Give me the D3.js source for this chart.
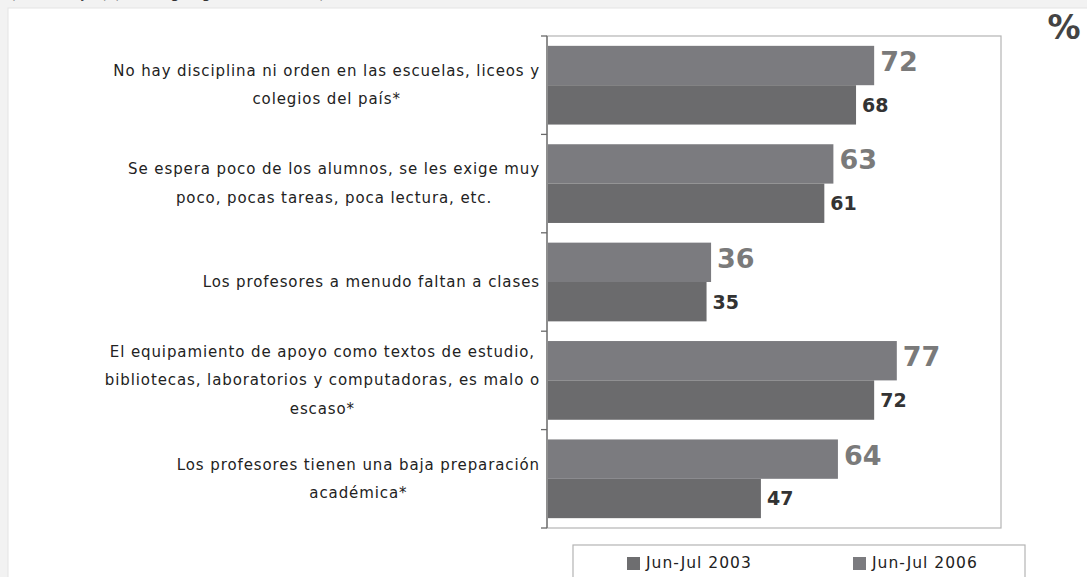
<!DOCTYPE html>
<html>
<head>
<meta charset="utf-8">
<script src="https://cdn.jsdelivr.net/npm/d3@7"></script>
<style>
  body { margin: 0; background: #f2f2f2; }
  svg { display: block; font-family: "DejaVu Sans", sans-serif; }
</style>
</head>
<body>
<div id="chart"></div>
<script>
// data
const categories = [
  "No hay disciplina ni orden en las escuelas, liceos y|colegios del país*",
  "Se espera poco de los alumnos, se les exige muy|poco, pocas tareas, poca lectura, etc.",
  "Los profesores a menudo faltan a clases",
  "El equipamiento de apoyo como textos de estudio,|bibliotecas, laboratorios y computadoras, es malo o|escaso*",
  "Los profesores tienen una baja preparación|académica*"
];
const seriesNames = ["Jun-Jul 2003", "Jun-Jul 2006"];
const values2003 = [72, 63, 36, 77, 64];
const values2006 = [68, 61, 35, 72, 47];
const colors = ["#7b7b7f", "#6b6b6d"];

const W = 1087, H = 577;
const plot = {left: 547, right: 1001, top: 36, bottom: 528};

const svg = d3.select("#chart").append("svg")
  .attr("width", W)
  .attr("height", H);

// white panel
svg.append("rect")
  .attr("x", 8).attr("y", 8)
  .attr("width", W).attr("height", H)
  .attr("fill", "#fff")
  .attr("stroke", "#e4e4e4");

// heading above, cut off by the top edge like in the original
svg.append("text")
  .attr("x", 10).attr("y", -2)
  .attr("font-size", 15).attr("fill", "#333")
  .text("(Porcentajes) (Ranking según de acuerdo)");

const x = d3.scaleLinear().domain([0, 100]).range([plot.left + 1, plot.right]);
const y = d3.scaleBand().domain(d3.range(categories.length))
  .range([plot.top, plot.bottom])
  .paddingInner(0.2).paddingOuter(0.1);
const ySub = d3.scaleBand().domain([0, 1]).range([0, y.bandwidth()]);

// frame
svg.append("rect")
  .attr("x", plot.left).attr("y", plot.top)
  .attr("width", plot.right - plot.left).attr("height", plot.bottom - plot.top)
  .attr("fill", "none").attr("stroke", "#b4b4b4").attr("stroke-width", 1.2);

const rows = categories.map((c, i) => ({i, label: c, vals: [values2003[i], values2006[i]]}));

const g = svg.selectAll("g.row").data(rows).join("g")
  .attr("class", "row")
  .attr("transform", d => `translate(0,${y(d.i)})`);

g.selectAll("rect").data(d => d.vals).join("rect")
  .attr("x", x(0))
  .attr("y", (d, j) => ySub(j))
  .attr("width", d => x(d) - x(0))
  .attr("height", ySub.bandwidth())
  .attr("fill", (d, j) => colors[j]);

// value labels
g.selectAll("text.val").data(d => d.vals).join("text")
  .attr("class", "val")
  .attr("x", d => x(d) + 6)
  .attr("y", (d, j) => ySub(j) + ySub.bandwidth() / 2 + (j === 0 ? -4 : 0))
  .attr("dominant-baseline", "central")
  .attr("font-weight", "bold")
  .attr("font-size", (d, j) => j === 0 ? 27 : 19)
  .attr("fill", (d, j) => j === 0 ? "#7a7a7a" : "#333")
  .text(d => d);

// left axis with ticks between the categories
const step = y.step();
const tickYs = d3.range(categories.length + 1).map(k => y(0) - step * 0.1 + k * step);
svg.append("line")
  .attr("x1", plot.left).attr("x2", plot.left)
  .attr("y1", plot.top).attr("y2", plot.bottom)
  .attr("stroke", "#6a6a6a").attr("stroke-width", 1.3);
svg.selectAll("line.tick").data(tickYs).join("line")
  .attr("class", "tick")
  .attr("x1", plot.left - 6).attr("x2", plot.left)
  .attr("y1", d => d).attr("y2", d => d)
  .attr("stroke", "#6a6a6a").attr("stroke-width", 1.3);

// category labels: block right aligned at 540, lines centred inside
const lineH = 28.5;
const labels = svg.selectAll("g.lab").data(rows).join("g").attr("class", "lab");
labels.each(function(d) {
  const lines = d.label.split("|");
  const cy = y(d.i) + y.bandwidth() / 2;
  const grp = d3.select(this);
  const ts = grp.selectAll("text").data(lines).join("text")
    .attr("font-size", 15)
    .attr("letter-spacing", 0.9)
    .attr("fill", "#222")
    .attr("text-anchor", "middle")
    .attr("dominant-baseline", "central")
    .attr("y", (l, k) => cy + (k - (lines.length - 1) / 2) * lineH)
    .text(l => l);
  const maxW = d3.max(ts.nodes(), n => n.getComputedTextLength());
  ts.attr("x", 540 - maxW / 2);
});

// % sign
svg.append("text")
  .attr("x", 1064).attr("y", 39)
  .attr("text-anchor", "middle")
  .attr("font-size", 33).attr("font-weight", "bold")
  .attr("fill", "#444")
  .text("%");

// legend
svg.append("rect")
  .attr("x", 573).attr("y", 545)
  .attr("width", 452).attr("height", 60)
  .attr("fill", "#fff").attr("stroke", "#b4b4b4").attr("stroke-width", 1.2);
const leg = svg.selectAll("g.leg").data(seriesNames).join("g")
  .attr("class", "leg")
  .attr("transform", (d, i) => `translate(${627 + i * 226},557)`);
leg.append("rect")
  .attr("width", 13).attr("height", 13)
  .attr("fill", (d, i) => i === 0 ? "#6e6e70" : "#7b7b7f");
leg.append("text")
  .attr("x", 19).attr("y", 11)
  .attr("font-size", 15.5).attr("letter-spacing", 1)
  .attr("fill", "#222")
  .text(d => d);
</script>
</body>
</html>
